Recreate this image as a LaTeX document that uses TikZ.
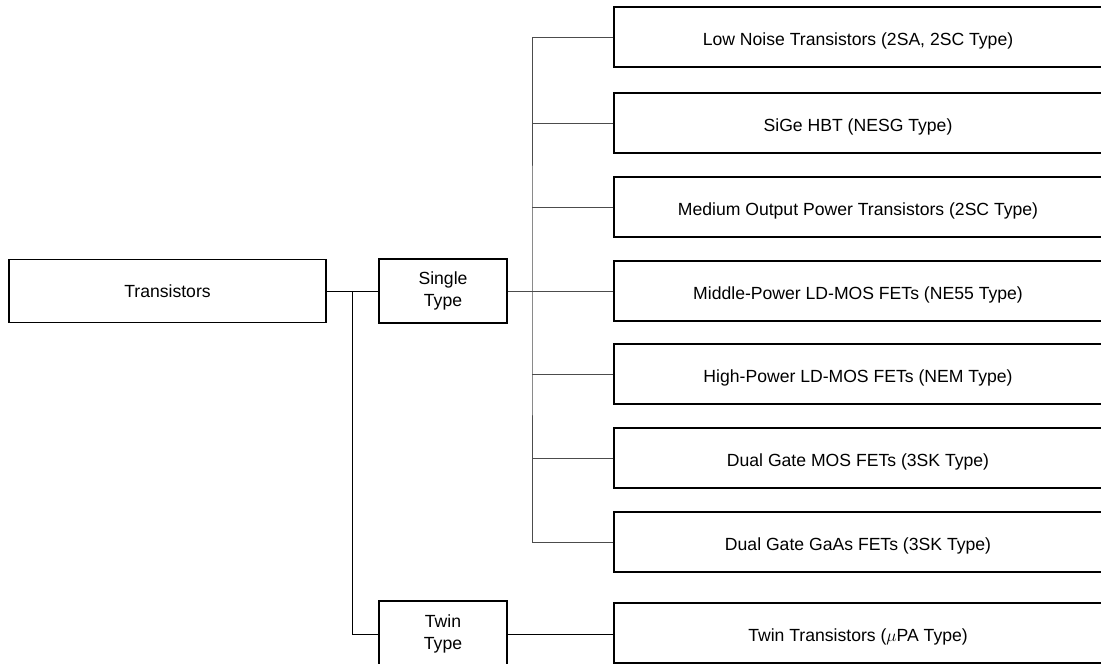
\documentclass[tikz,border=0pt]{standalone}
\usepackage{fontspec}
\setmainfont{Liberation Sans}
\usepackage{tikz}

\begin{document}
\begin{tikzpicture}[x=1pt,y=-1pt,
  box/.style={draw=black,line width=1.5pt,inner sep=0pt,align=center,
    font=\fontsize{17.6}{22.5}\selectfont},
  part/.style={box,minimum width=488pt,minimum height=60pt,
    text height=16.6pt,text depth=0pt},
  link/.style={draw=black,line width=1pt},
  glink/.style={draw=black!70,line width=1pt}]
\useasboundingbox (0,0) rectangle (1101,664);

\node[box,minimum width=317pt,minimum height=63pt] (trans) at (167.5,291) {Transistors};
\node[box,minimum width=128pt,minimum height=64pt] (single) at (443,291) {Single\\Type};
\node[box,minimum width=128pt,minimum height=66pt] (twin) at (443,634) {Twin\\Type};

\node[part] (lownoise) at (858,37) {Low Noise Transistors (2SA, 2SC Type)};
\node[part] (sige) at (858,123) {SiGe HBT (NESG Type)};
\node[part] (medium) at (858,207) {Medium Output Power Transistors (2SC Type)};
\node[part] (middle) at (858,291) {Middle-Power LD-MOS FETs (NE55 Type)};
\node[part] (high) at (858,374) {High-Power LD-MOS FETs (NEM Type)};
\node[part] (dualmos) at (858,458) {Dual Gate MOS FETs (3SK Type)};
\node[part] (dualgaas) at (858,542) {Dual Gate GaAs FETs (3SK Type)};
\node[part] (twintr) at (858,633) {Twin Transistors ($\mu$PA Type)};

% junctions
\coordinate (tj) at (352,291);
\coordinate (sj) at (532,291);

\draw[link] (trans.east) -- (single.west);
\draw[link] (tj) |- (twin.west);
\draw[link] (twin.east) -- (twin.east -| twintr.west);

\draw[glink] (single.east) -- (middle.west);
\draw[glink] (lownoise.west) -| (sj) |- (dualgaas.west);
\draw[glink] (sige.west) -- (sige.west -| sj);
\draw[glink] (medium.west) -- (medium.west -| sj);
\draw[glink] (high.west) -- (high.west -| sj);
\draw[glink] (dualmos.west) -- (dualmos.west -| sj);

\end{tikzpicture}
\end{document}
